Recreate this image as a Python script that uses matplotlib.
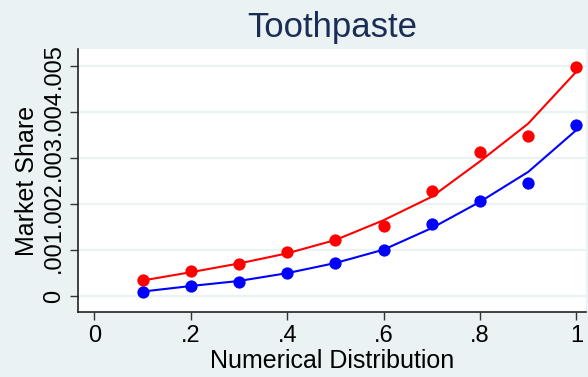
import matplotlib.pyplot as plt

plt.rcParams['font.family'] = ['Liberation Sans', 'DejaVu Sans']

# numerical distribution levels
dist = [0.1, 0.2, 0.3, 0.4, 0.5, 0.6, 0.7, 0.8, 0.9, 1.0]

# observed market share
share_red = [0.00036, 0.00055, 0.00069, 0.00095, 0.00123, 0.00153, 0.00228, 0.00314, 0.00348, 0.00498]
share_blue = [0.00009, 0.00022, 0.00030, 0.00051, 0.00073, 0.00101, 0.00156, 0.00207, 0.00246, 0.00372]

# fitted curves
fit_red = [0.00034, 0.00052, 0.00071, 0.00093, 0.00122, 0.00165, 0.00216, 0.00293, 0.00375, 0.00488]
fit_blue = [0.00010, 0.00022, 0.00033, 0.00050, 0.00072, 0.00101, 0.00148, 0.00205, 0.00270, 0.00361]

xticks = [0, 0.2, 0.4, 0.6, 0.8, 1.0]
xlabels = ['0', '.2', '.4', '.6', '.8', '1']
yticks = [0, 0.001, 0.002, 0.003, 0.004, 0.005]
ylabels = ['0', '.001', '.002', '.003', '.004', '.005']

bg = '#EAF2F3'
fig = plt.figure(figsize=(5.88, 3.77), dpi=100, facecolor=bg)
ax = fig.add_axes([0.1327, 0.172, 0.864, 0.698])
ax.set_facecolor('white')

ax.plot(dist, fit_red, color='#FF0000', lw=1.5, zorder=3)
ax.plot(dist, fit_blue, color='#0000FF', lw=1.5, zorder=3)
ax.scatter(dist, share_red, s=78, color='#FF0000', zorder=4, linewidths=0)
ax.scatter(dist, share_blue, s=78, color='#0000FF', zorder=4, linewidths=0)

ax.set_xlim(-0.034, 1.02)
ax.set_ylim(-0.000348, 0.00537)
ax.set_xticks(xticks, xlabels)
ax.set_yticks(yticks, ylabels)
ax.tick_params(axis='both', labelsize=17, length=6, width=1, color='#333333')
plt.setp(ax.get_yticklabels(), rotation=90, va='center')
ax.grid(axis='y', color=bg, lw=1.6)
ax.set_axisbelow(True)

for side in ['top', 'right']:
    ax.spines[side].set_visible(False)
for side in ['left', 'bottom']:
    ax.spines[side].set_color('#222222')
    ax.spines[side].set_linewidth(1.2)

ax.set_xlabel('Numerical Distribution', fontsize=18, labelpad=1)
ax.set_ylabel('Market Share', fontsize=18, labelpad=3)
ax.set_title('Toothpaste', fontsize=25, color='#1A2E55', pad=9)

fig.savefig('out.png', dpi=100, facecolor=bg)
